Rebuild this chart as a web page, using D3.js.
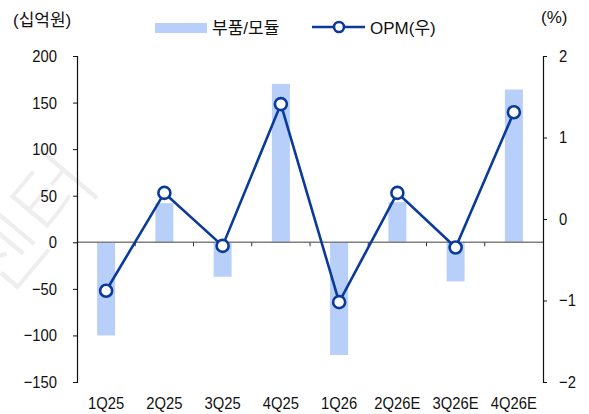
<!DOCTYPE html>
<html>
<head>
<meta charset="utf-8">
<script src="https://cdn.jsdelivr.net/npm/d3@7"></script>
<style>
  body { margin: 0; background: #fff; }
  svg text { font-family: "Liberation Sans", Arial, "Noto Sans CJK KR", sans-serif; fill: #111; }
</style>
</head>
<body>
<svg width="589" height="414"></svg>
<script>
// data
var quarters = ["1Q25", "2Q25", "3Q25", "4Q25", "1Q26", "2Q26E", "3Q26E", "4Q26E"];
var parts = [-100, 42, -37, 170, -121, 43, -42, 164];      // 부품/모듈, 십억원
var opm = [-0.88, 0.32, -0.33, 1.41, -1.02, 0.32, -0.35, 1.31]; // OPM(우), %
var leftTicks = [200, 150, 100, 50, 0, -50, -100, -150];
var rightTicks = [2, 1, 0, -1, -2];

var svg = d3.select("svg");
var barColor = "#b8cffa",
  lineColor = "#0a3a9a";

var plotL = 77, plotR = 543, plotT = 56, plotB = 382;
var squeeze = 0.87; // the reference uses a narrow sans

var x = d3.scaleBand().domain(quarters).range([plotL, plotR]);
var yL = d3.scaleLinear().domain([-150, 200]).range([plotB, plotT]);
var yR = d3.scaleLinear().domain([-2, 2]).range([plotB, plotT]);

function cx(i) {
  return x(quarters[i]) + x.bandwidth() / 2;
}
function minus(d) {
  return d < 0 ? "\u2212" + Math.abs(d) : d;
}

// watermark
svg.append("text")
  .attr("transform", "translate(2,302) rotate(-50)")
  .style("font-family", "'Noto Sans CJK KR'")
  .style("font-weight", 300)
  .style("font-size", "84px")
  .style("fill", "#eeeeee")
  .text("센터");

// bars
svg.append("g").selectAll("rect")
  .data(parts)
  .enter().append("rect")
  .attr("x", (d, i) => cx(i) - 9)
  .attr("width", 18)
  .attr("y", (d) => yL(Math.max(0, d)))
  .attr("height", (d) => Math.abs(yL(d) - yL(0)))
  .attr("fill", barColor);

// zero line with small category ticks
svg.append("line")
  .attr("x1", plotL).attr("x2", plotR)
  .attr("y1", yL(0)).attr("y2", yL(0))
  .attr("stroke", "#7f7f7f").attr("stroke-width", 1.5);
svg.append("g").selectAll("line")
  .data(quarters.slice(1))
  .enter().append("line")
  .attr("x1", (d) => x(d)).attr("x2", (d) => x(d))
  .attr("y1", yL(0)).attr("y2", yL(0) + 4)
  .attr("stroke", "#333").attr("stroke-width", 1);

// axes
var axL = svg.append("g")
  .attr("transform", "translate(" + plotL + ",0)")
  .call(d3.axisLeft(yL).tickValues(leftTicks).tickSize(4).tickPadding(16).tickFormat(minus));
var axR = svg.append("g")
  .attr("transform", "translate(" + plotR + ",0)")
  .call(d3.axisRight(yR).tickValues(rightTicks).tickSize(4).tickPadding(12).tickFormat(minus));
[axL, axR].forEach(function (ax) {
  ax.select(".domain").attr("stroke", "#111").attr("stroke-width", 1.2);
  ax.selectAll(".tick line").attr("stroke", "#111");
  ax.selectAll(".tick text")
    .style("font-size", "17px")
    .attr("fill", "#111")
    .attr("x", function () { return +d3.select(this).attr("x") / squeeze; })
    .attr("transform", "scale(" + squeeze + ",1)");
});

// category labels
svg.append("g").selectAll("text")
  .data(quarters)
  .enter().append("text")
  .attr("transform", (d, i) => "translate(" + cx(i) + ",409) scale(" + squeeze + ",1)")
  .attr("text-anchor", "middle")
  .style("font-size", "17px")
  .text((d) => d);

// OPM line
var line = d3.line()
  .x((d, i) => cx(i))
  .y((d) => yR(d));
svg.append("path")
  .datum(opm)
  .attr("d", line)
  .attr("fill", "none")
  .attr("stroke", lineColor)
  .attr("stroke-width", 2.6);
svg.append("g").selectAll("circle")
  .data(opm)
  .enter().append("circle")
  .attr("cx", (d, i) => cx(i))
  .attr("cy", (d) => yR(d))
  .attr("r", 6)
  .attr("fill", "#fff")
  .attr("stroke", lineColor)
  .attr("stroke-width", 2.6);

// unit labels
svg.append("text").attr("x", 13).attr("y", 26)
  .style("font-size", "17px").text("(십억원)");
svg.append("text").attr("x", 541).attr("y", 23)
  .style("font-size", "17px").text("(%)");

// legend
svg.append("rect").attr("x", 155).attr("y", 23).attr("width", 52).attr("height", 10)
  .attr("fill", barColor);
svg.append("text").attr("x", 212).attr("y", 34)
  .style("font-size", "17px").text("부품/모듈");
svg.append("line").attr("x1", 312).attr("x2", 365).attr("y1", 27).attr("y2", 27)
  .attr("stroke", lineColor).attr("stroke-width", 2.6);
svg.append("circle").attr("cx", 339).attr("cy", 27).attr("r", 5)
  .attr("fill", "#fff").attr("stroke", lineColor).attr("stroke-width", 2.6);
svg.append("text").attr("x", 370).attr("y", 34)
  .style("font-size", "17px").text("OPM(우)");
</script>
</body>
</html>
